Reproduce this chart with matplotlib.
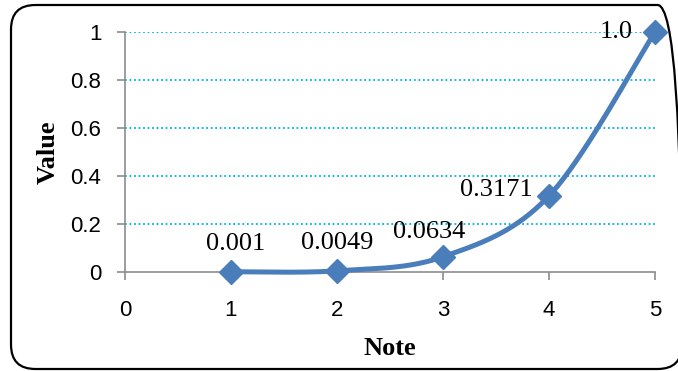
import numpy as np
import matplotlib
matplotlib.use("Agg")
import matplotlib.pyplot as plt
from matplotlib.patches import FancyBboxPatch

notes = [1, 2, 3, 4, 5]
values = [0.001, 0.0049, 0.0634, 0.3171, 1.0]
labels = ["0.001", "0.0049", "0.0634", "0.3171", "1.0"]
xticks = [0, 1, 2, 3, 4, 5]
yticks = [0, 0.2, 0.4, 0.6, 0.8, 1.0]
ytick_labels = ["0", "0.2", "0.4", "0.6", "0.8", "1"]

def smooth(xs, ys, n=60):
    P = np.column_stack([xs, ys]).astype(float)
    pts = []
    for i in range(len(P) - 1):
        p0 = P[i - 1] if i > 0 else P[i]
        p1, p2 = P[i], P[i + 1]
        p3 = P[i + 2] if i + 2 < len(P) else P[i + 1]
        c1 = p1 + (p2 - p0) / 6
        c2 = p2 - (p3 - p1) / 6
        t = np.linspace(0, 1, n)[:, None]
        seg = ((1 - t) ** 3) * p1 + 3 * ((1 - t) ** 2) * t * c1 + 3 * (1 - t) * t ** 2 * c2 + t ** 3 * p2
        pts.append(seg if i == 0 else seg[1:])
    S = np.vstack(pts)
    return S[:, 0], S[:, 1]

W, H = 678, 371
fig = plt.figure(figsize=(W / 100, H / 100), dpi=100)
fig.patch.set_facecolor("white")
border = FancyBboxPatch((11 / W, 2 / H), (682 - 11) / W, (366 - 2) / H,
                        boxstyle="round,pad=0,rounding_size=0.036",
                        transform=fig.transFigure, facecolor="none",
                        edgecolor="black", linewidth=1.6, mutation_aspect=W / H,
                        clip_on=False)
fig.patches.append(border)

ax = fig.add_axes([125 / W, 1 - 272 / H, (655 - 125) / W, (272 - 32) / H])
ax.set_xlim(0, 5)
ax.set_ylim(0, 1)
ax.set_xticks(xticks)
ax.set_yticks(yticks)
ax.set_yticklabels(ytick_labels)
for s in ["top", "right"]:
    ax.spines[s].set_visible(False)
for s in ["left", "bottom"]:
    ax.spines[s].set_color("#8c8c8c")
    ax.spines[s].set_linewidth(1.2)
ax.tick_params(axis="both", direction="out", color="#8c8c8c", width=1.2, length=6)
ax.tick_params(axis="y", pad=11)
ax.tick_params(axis="x", pad=14)
for lab in ax.get_xticklabels() + ax.get_yticklabels():
    lab.set_fontfamily("Liberation Sans")
    lab.set_fontsize(16)

for y in yticks[1:]:
    ax.axhline(y, color="#00B0F0", linestyle=(0, (1, 1.5)), linewidth=1.3, zorder=1)

sx, sy = smooth(notes, values)
ax.plot(sx, sy, color="#4A7EBB", linewidth=3.6, zorder=3, clip_on=False)
ax.plot(notes, values, linestyle="none", marker="D", markersize=12,
        color="#4A7EBB", zorder=4, clip_on=False)

offsets = [(3, 20), (0, 20), (-10, 18), (-38, 4), (-28, 0)]
for x, y, t, off in zip(notes, values, labels, offsets):
    ax.annotate(t, (x, y), xytext=off, textcoords="offset points",
                ha="center", va="center", fontfamily="Liberation Serif",
                fontsize=19, zorder=5)

ax.set_xlabel("Note", fontfamily="Liberation Serif", fontweight="bold", fontsize=19, labelpad=12)
ax.set_ylabel("Value", fontfamily="Liberation Serif", fontweight="bold", fontsize=19, labelpad=8)

fig.savefig("out.png", dpi=100)
